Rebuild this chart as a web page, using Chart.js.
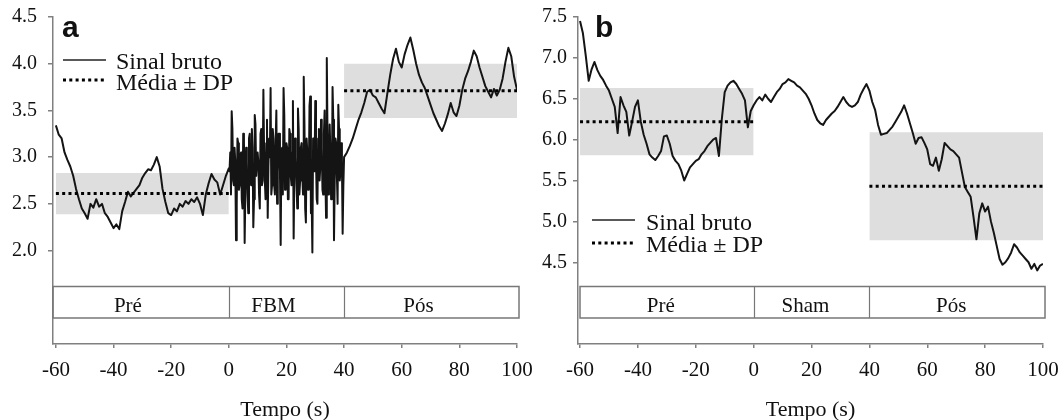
<!DOCTYPE html>
<html><head><meta charset="utf-8">
<script src="https://cdn.jsdelivr.net/npm/chart.js@4"></script>
<style>
html,body{margin:0;padding:0;background:#fff;width:1061px;height:420px;overflow:hidden;position:relative}
canvas{position:absolute;top:0}
#ca{left:0}#cb{left:530px}
</style></head><body>
<canvas id="ca" width="545" height="420"></canvas>
<canvas id="cb" width="531" height="420"></canvas>
<script>
// ---------- data ----------
const xTicks = [-60,-40,-20,0,20,40,60,80,100];
const yTicksA = [2.0,2.5,3.0,3.5,4.0,4.5];
const yTicksB = [4.5,5.0,5.5,6.0,6.5,7.0,7.5];
const phaseBounds = [-60,0,40,100];
const phasesA = ['Pré','FBM','Pós'];
const phasesB = ['Pré','Sham','Pós'];
const legendLabels = ['Sinal bruto','Média ± DP'];
const axisTitle = 'Tempo (s)';
const panelLetters = ['a','b'];

// panel a raw signal
const aPreStart = -60, aPreStep = 1;
const aPre = [3.34,3.24,3.20,3.05,2.97,2.90,2.80,2.66,2.55,2.45,
 2.40,2.34,2.50,2.46,2.55,2.47,2.50,2.40,2.36,2.30,
 2.24,2.28,2.23,2.42,2.52,2.63,2.58,2.62,2.66,2.70,
 2.78,2.83,2.87,2.86,2.92,3.00,2.90,2.66,2.52,2.40,
 2.38,2.45,2.42,2.50,2.47,2.53,2.50,2.55,2.52,2.57,
 2.50,2.38,2.60,2.72,2.82,2.76,2.73,2.60,2.70,2.80,
 2.88];
// FBM phase, samples at 0.5, 1.0, ... 40.0
const aFbmStart = 0.5, aFbmStep = 0.5;
const aFbm = [3.05,3.49,2.75,3.10,2.11,3.20,2.65,3.00,2.55,3.25,
 2.08,3.10,2.60,3.20,2.75,3.30,2.25,3.45,2.80,3.05,
 2.60,3.25,2.70,3.72,2.75,3.15,2.35,3.20,3.74,2.70,
 3.20,2.60,3.50,2.85,3.25,2.06,3.10,3.74,2.65,3.15,
 2.55,3.30,2.80,3.05,2.13,3.20,2.70,3.52,2.60,3.10,
 2.80,3.86,2.45,3.20,2.65,3.55,2.40,1.98,3.05,3.60,
 2.55,3.20,2.75,3.40,2.65,3.25,2.80,4.06,2.60,3.35,
 2.55,3.75,2.11,3.20,2.80,3.56,2.75,3.15,2.18,3.00];
// FBM phase, in-between samples at 0.25, 0.75, ... 39.75
const aFbmMidStart = 0.25, aFbmMidStep = 0.5;
const aFbmMid = [2.85,2.60,3.30,2.70,2.95,2.50,3.15,2.70,3.05,2.45,
 3.20,2.65,2.95,2.40,3.25,2.70,3.10,2.55,3.35,2.80,
 2.95,2.45,3.30,2.75,3.05,2.55,3.40,2.90,3.00,2.60,
 3.30,2.70,3.15,2.50,3.25,2.85,3.05,2.60,3.45,2.75,
 3.10,2.55,3.25,2.70,3.60,2.85,3.00,2.45,3.30,2.75,
 3.15,2.60,3.35,2.30,3.05,2.70,3.65,2.55,3.20,2.85,
 3.00,2.50,3.30,2.90,3.10,2.60,3.50,2.35,3.25,2.80,
 3.05,2.65,3.40,2.75,3.15,2.50,3.30,2.85,2.95,2.70];
const aPosStart = 41, aPosStep = 1;
const aPos = [3.05,3.12,3.20,3.30,3.40,3.48,3.58,3.70,3.72,3.66,
 3.64,3.58,3.52,3.47,3.68,3.88,4.05,4.16,4.02,3.96,
 4.10,4.20,4.28,4.15,4.00,3.88,3.80,3.74,3.65,3.56,
 3.47,3.40,3.33,3.28,3.36,3.46,3.58,3.48,3.44,3.55,
 3.72,3.84,3.92,4.02,4.14,4.08,3.96,3.86,3.76,3.70,
 3.64,3.73,3.66,3.72,3.84,4.02,4.17,4.08,3.86,3.72];

// panel b raw signal
const bPreStart = -60, bPreStep = 1;
const bPre = [7.45,7.30,7.02,6.72,6.86,6.95,6.85,6.78,6.73,6.66,
 6.60,6.50,6.40,6.08,6.52,6.42,6.34,6.05,6.22,6.40,
 6.48,6.22,6.06,5.95,5.82,5.78,5.75,5.80,5.86,6.04,
 6.05,5.95,5.80,5.74,5.70,5.62,5.50,5.58,5.66,5.70,
 5.74,5.76,5.82,5.86,5.92,5.96,6.00,6.02,5.80,6.25,
 6.58,6.66,6.70,6.72,6.68,6.62,6.56,6.48,6.15,6.35,
 6.42];
const bRestStart = 1, bRestStep = 1;
const bRest = [6.48,6.52,6.48,6.55,6.50,6.46,6.52,6.58,6.62,6.68,
 6.70,6.74,6.72,6.70,6.66,6.64,6.60,6.56,6.50,6.42,
 6.32,6.24,6.20,6.18,6.24,6.28,6.32,6.35,6.40,6.46,
 6.52,6.46,6.42,6.40,6.42,6.46,6.55,6.62,6.68,6.60,
 6.46,6.36,6.18,6.06,6.07,6.08,6.12,6.16,6.22,6.28,
 6.34,6.42,6.32,6.20,6.08,5.95,6.02,6.03,5.96,5.88,
 5.70,5.68,5.78,5.62,5.76,5.96,5.92,5.88,5.86,5.82,
 5.78,5.60,5.42,5.36,5.30,5.05,4.78,5.10,5.22,5.12,
 5.18,5.00,4.86,4.70,4.54,4.47,4.50,4.55,4.62,4.72,
 4.68,4.62,4.58,4.54,4.50,4.42,4.48,4.40,4.46,4.48];

// mean and SD windows (pre, post)
const statWindows = [[-60,0],[40,100]];
const meanA = [2.61, 3.71];
const sdA = [0.22, 0.29];
const meanB = [6.22, 5.43];
const sdB = [0.41, 0.66];

// ---------- helpers ----------
function pts(start, step, vals){ return vals.map((v,i)=>({x:+(start+i*step).toFixed(3), y:v})); }

const FONT = '"Liberation Serif", "Times New Roman", serif';
const AXIS = '#808080';
const BAND = '#dedede';

function buildDatasets(signal, means, sds){
  const ds = [{data: signal, borderColor:'#141414', borderWidth:2, pointRadius:0, tension:0, fill:false, order:1, borderJoinStyle:'round'}];
  statWindows.forEach((w,k)=>{
    const m = means[k], s = sds[k];
    ds.push({data:[{x:w[0],y:m+s},{x:w[1],y:m+s}], borderColor:'rgba(0,0,0,0)', borderWidth:1, pointRadius:0, fill:'+1', backgroundColor:BAND, order:5});
    ds.push({data:[{x:w[0],y:m-s},{x:w[1],y:m-s}], borderColor:'rgba(0,0,0,0)', borderWidth:1, pointRadius:0, fill:false, order:5});
    ds.push({data:[{x:w[0],y:m},{x:w[1],y:m}], borderColor:'#000', borderWidth:3, borderDash:[3,3.3], pointRadius:0, fill:false, order:0});
  });
  return ds;
}

const decor = {
  id:'decor',
  afterDraw(chart, args, o){
    const {ctx, chartArea:ca, scales:{x}} = chart;
    ctx.save();
    // phase box
    const top = ca.bottom - 57.5, bot = ca.bottom - 26;
    const left = ca.left + o.boxL, right = ca.right + 2;
    ctx.strokeStyle = '#777'; ctx.lineWidth = 1.5; ctx.setLineDash([]);
    ctx.strokeRect(left, top, right-left, bot-top);
    ctx.beginPath();
    for (let i=1;i<phaseBounds.length-1;i++){ const px = Math.round(x.getPixelForValue(phaseBounds[i]))+0.5; ctx.moveTo(px,top); ctx.lineTo(px,bot); }
    ctx.lineWidth = 1.2; ctx.stroke();
    ctx.fillStyle = '#111'; ctx.font = '21px ' + FONT; ctx.textAlign='center'; ctx.textBaseline='alphabetic';
    for (let i=0;i<o.phases.length;i++){
      const l = i===0 ? left : x.getPixelForValue(phaseBounds[i]);
      const r = i===o.phases.length-1 ? right : x.getPixelForValue(phaseBounds[i+1]);
      ctx.fillText(o.phases[i], (l+r)/2 + o.shift, top + 25.5);
    }
    // panel letter
    ctx.font = 'bold 30px "Liberation Sans", Arial, sans-serif'; ctx.textAlign='left';
    ctx.fillText(o.letter, o.letterX, 37);
    // legend
    const L = o.legend;
    ctx.strokeStyle = '#222'; ctx.lineWidth = 1.5;
    ctx.beginPath(); ctx.moveTo(L.x0, L.y1); ctx.lineTo(L.x1, L.y1); ctx.stroke();
    ctx.strokeStyle = '#000'; ctx.lineWidth = 3; ctx.setLineDash([3,3.3]);
    ctx.beginPath(); ctx.moveTo(L.x0, L.y2); ctx.lineTo(L.x1, L.y2); ctx.stroke();
    ctx.setLineDash([]);
    ctx.font = '24px ' + FONT; ctx.fillStyle = '#111';
    ctx.fillText(legendLabels[0], L.tx, L.b1);
    ctx.fillText(legendLabels[1], L.tx, L.b2);
    ctx.restore();
  }
};

function makeChart(id, c){
  return new Chart(document.getElementById(id), {
    type:'line',
    data:{datasets:c.datasets},
    options:{
      responsive:false, animation:false, devicePixelRatio:1, parsing:true,
      layout:{padding:{left:0, right:c.padRight, top:17, bottom:0}},
      plugins:{legend:{display:false}, tooltip:{enabled:false}, decor:c.decor},
      scales:{
        x:{type:'linear', min:c.xMin, max:100,
          afterBuildTicks:s=>{ s.ticks = xTicks.map(v=>({value:v})); },
          afterFit:s=>{ s.height = 76; s.paddingLeft = 0; s.paddingRight = 0; },
          grid:{drawOnChartArea:false, drawTicks:true, tickLength:4, color:AXIS, lineWidth:1.5},
          border:{display:true, color:AXIS, width:1.5},
          ticks:{font:{family:FONT, size:21}, color:'#111', padding:10, maxRotation:0, autoSkip:false, callback:v=>String(v)},
          title:{display:true, text:axisTitle, font:{family:FONT, size:22, lineHeight:1}, color:'#111', padding:{top:0,bottom:-1}}
        },
        y:{type:'linear', min:c.yMin, max:c.yMax,
          afterBuildTicks:s=>{ s.ticks = c.yTicks.map(v=>({value:v})); },
          afterFit:s=>{ s.width = c.yWidth; s.paddingTop = 0; s.paddingBottom = 0; },
          grid:{drawOnChartArea:false, drawTicks:true, tickLength:5, color:AXIS, lineWidth:1.5},
          border:{display:true, color:AXIS, width:1.5},
          ticks:{font:{family:FONT, size:20}, color:'#111', padding:c.yPad, autoSkip:false, callback:v=>Number(v).toFixed(1)}
        }
      }
    },
    plugins:[decor]
  });
}

const sigA = pts(aPreStart,aPreStep,aPre)
  .concat(pts(aFbmStart,aFbmStep,aFbm), pts(aFbmMidStart,aFbmMidStep,aFbmMid), pts(aPosStart,aPosStep,aPos))
  .sort((p,q)=>p.x-q.x);
const sigB = pts(bPreStart,bPreStep,bPre).concat(pts(bRestStart,bRestStep,bRest));

makeChart('ca', {
  datasets: buildDatasets(sigA, meanA, sdA),
  xMin:-61, yMin:1.0, yMax:4.5, yTicks:yTicksA, yWidth:53, yPad:11, padRight:28,
  decor:{phases:phasesA, shift:-13, boxL:0, letter:panelLetters[0], letterX:62,
    legend:{x0:63, x1:106, y1:60, y2:80, tx:116, b1:69, b2:90}}
});
makeChart('cb', {
  datasets: buildDatasets(sigB, meanB, sdB),
  xMin:-60.7, yMin:3.5, yMax:7.5, yTicks:yTicksB, yWidth:48, yPad:6, padRight:18,
  decor:{phases:phasesB, shift:-6, boxL:2, letter:panelLetters[1], letterX:65,
    legend:{x0:62, x1:105, y1:220, y2:243, tx:116, b1:230, b2:252}}
});
</script></body></html>
